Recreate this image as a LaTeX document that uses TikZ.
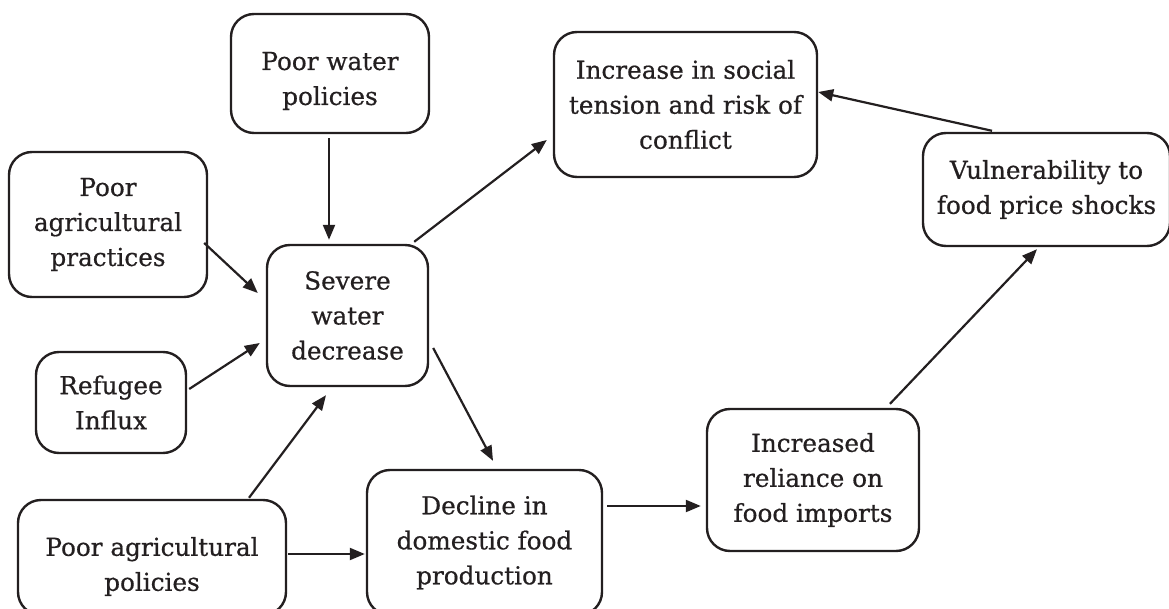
\documentclass[tikz,border=0pt]{standalone}
\usepackage{fontspec}
\setmainfont{DejaVu Serif}[FakeBold=0.6]
\usetikzlibrary{arrows.meta,calc}
\definecolor{ink}{HTML}{231F20}
\tikzset{
  box/.style={draw=ink, text=ink, line width=2.4pt, rounded corners=23pt, align=center, inner sep=0pt,
    font=\fontsize{24.7}{35}\selectfont},
  txt/.style={text=ink, align=center, inner sep=0pt, font=\fontsize{24.7}{35}\selectfont},
  arr/.style={draw=ink, line width=2.2pt, -{Triangle[length=15pt,width=12pt]}}
}
\begin{document}
\begin{tikzpicture}[x=1pt,y=-1pt]
\useasboundingbox (0,0) rectangle (1169,609);
\clip (0,0) rectangle (1169,609);
\node[box, minimum width=198pt, minimum height=119pt] (water) at (330,73.5) {};
\node[txt] (watert) at ([yshift=-7.5pt]water.center) {Poor water\\policies};
\node[box, minimum width=198pt, minimum height=145pt] (practices) at (108,224.5) {Poor\\agricultural\\practices};
\node[box, minimum width=161pt, minimum height=141pt] (severe) at (347.5,315.5) {Severe\\water\\decrease};
\node[box, minimum width=263pt, minimum height=145pt] (social) at (685.5,104.5) {Increase in social\\tension and risk of\\conflict};
\node[box, minimum width=247pt, minimum height=113pt] (vuln) at (1046.5,189.5) {Vulnerability to\\food price shocks};
\node[box, minimum width=212pt, minimum height=142pt] (reliance) at (813,480) {Increased\\reliance on\\food imports};
\node[box, minimum width=235pt, minimum height=145pt] (decline) at (484.5,542.5) {Decline in\\domestic food\\production};
\node[box, minimum width=150pt, minimum height=101pt] (refugee) at (111,402.5) {Refugee\\Influx};
\node[box, minimum width=268pt, minimum height=115pt] (policies) at (152,557.5) {};
\node[txt] (policiest) at ([yshift=-9pt]policies.center) {Poor agricultural\\policies};

\draw[arr] ([xshift=-1pt,yshift=-4pt]water.south) -- ([xshift=-18.5pt,yshift=4pt]severe.north);
\draw[arr] ([xshift=-4pt,yshift=-18.5pt]practices.east) -- ([xshift=-8pt,yshift=22.5pt]severe.west);
\draw[arr] ([xshift=-15pt,yshift=2pt]severe.north east) -- ([xshift=-6pt,yshift=-35.5pt]social.west);
\draw[arr] ([xshift=-54.5pt,yshift=1pt]vuln.north) -- ([yshift=12.5pt]social.east);
\draw[arr] ([xshift=77pt,yshift=4pt]reliance.north) -- ([xshift=-9.5pt,yshift=-2pt]vuln.south);
\draw[arr] ([xshift=4pt,yshift=36.5pt]decline.east) -- ([xshift=-5pt,yshift=-26pt]reliance.west);
\draw[arr] ([xshift=4pt,yshift=-32.5pt]severe.east) -- ([xshift=8.5pt,yshift=8pt]decline.north);
\draw[arr] ([xshift=2pt,yshift=13.5pt]refugee.east) -- ([xshift=-6pt,yshift=-27.5pt]severe.west);
\draw[arr] ([xshift=97pt,yshift=1pt]policies.north) -- ([xshift=-21.5pt,yshift=-8pt]severe.south);
\draw[arr] ([xshift=1pt,yshift=3.5pt]policies.east) -- ([xshift=-1pt,yshift=-11.5pt]decline.west);
\end{tikzpicture}
\end{document}
